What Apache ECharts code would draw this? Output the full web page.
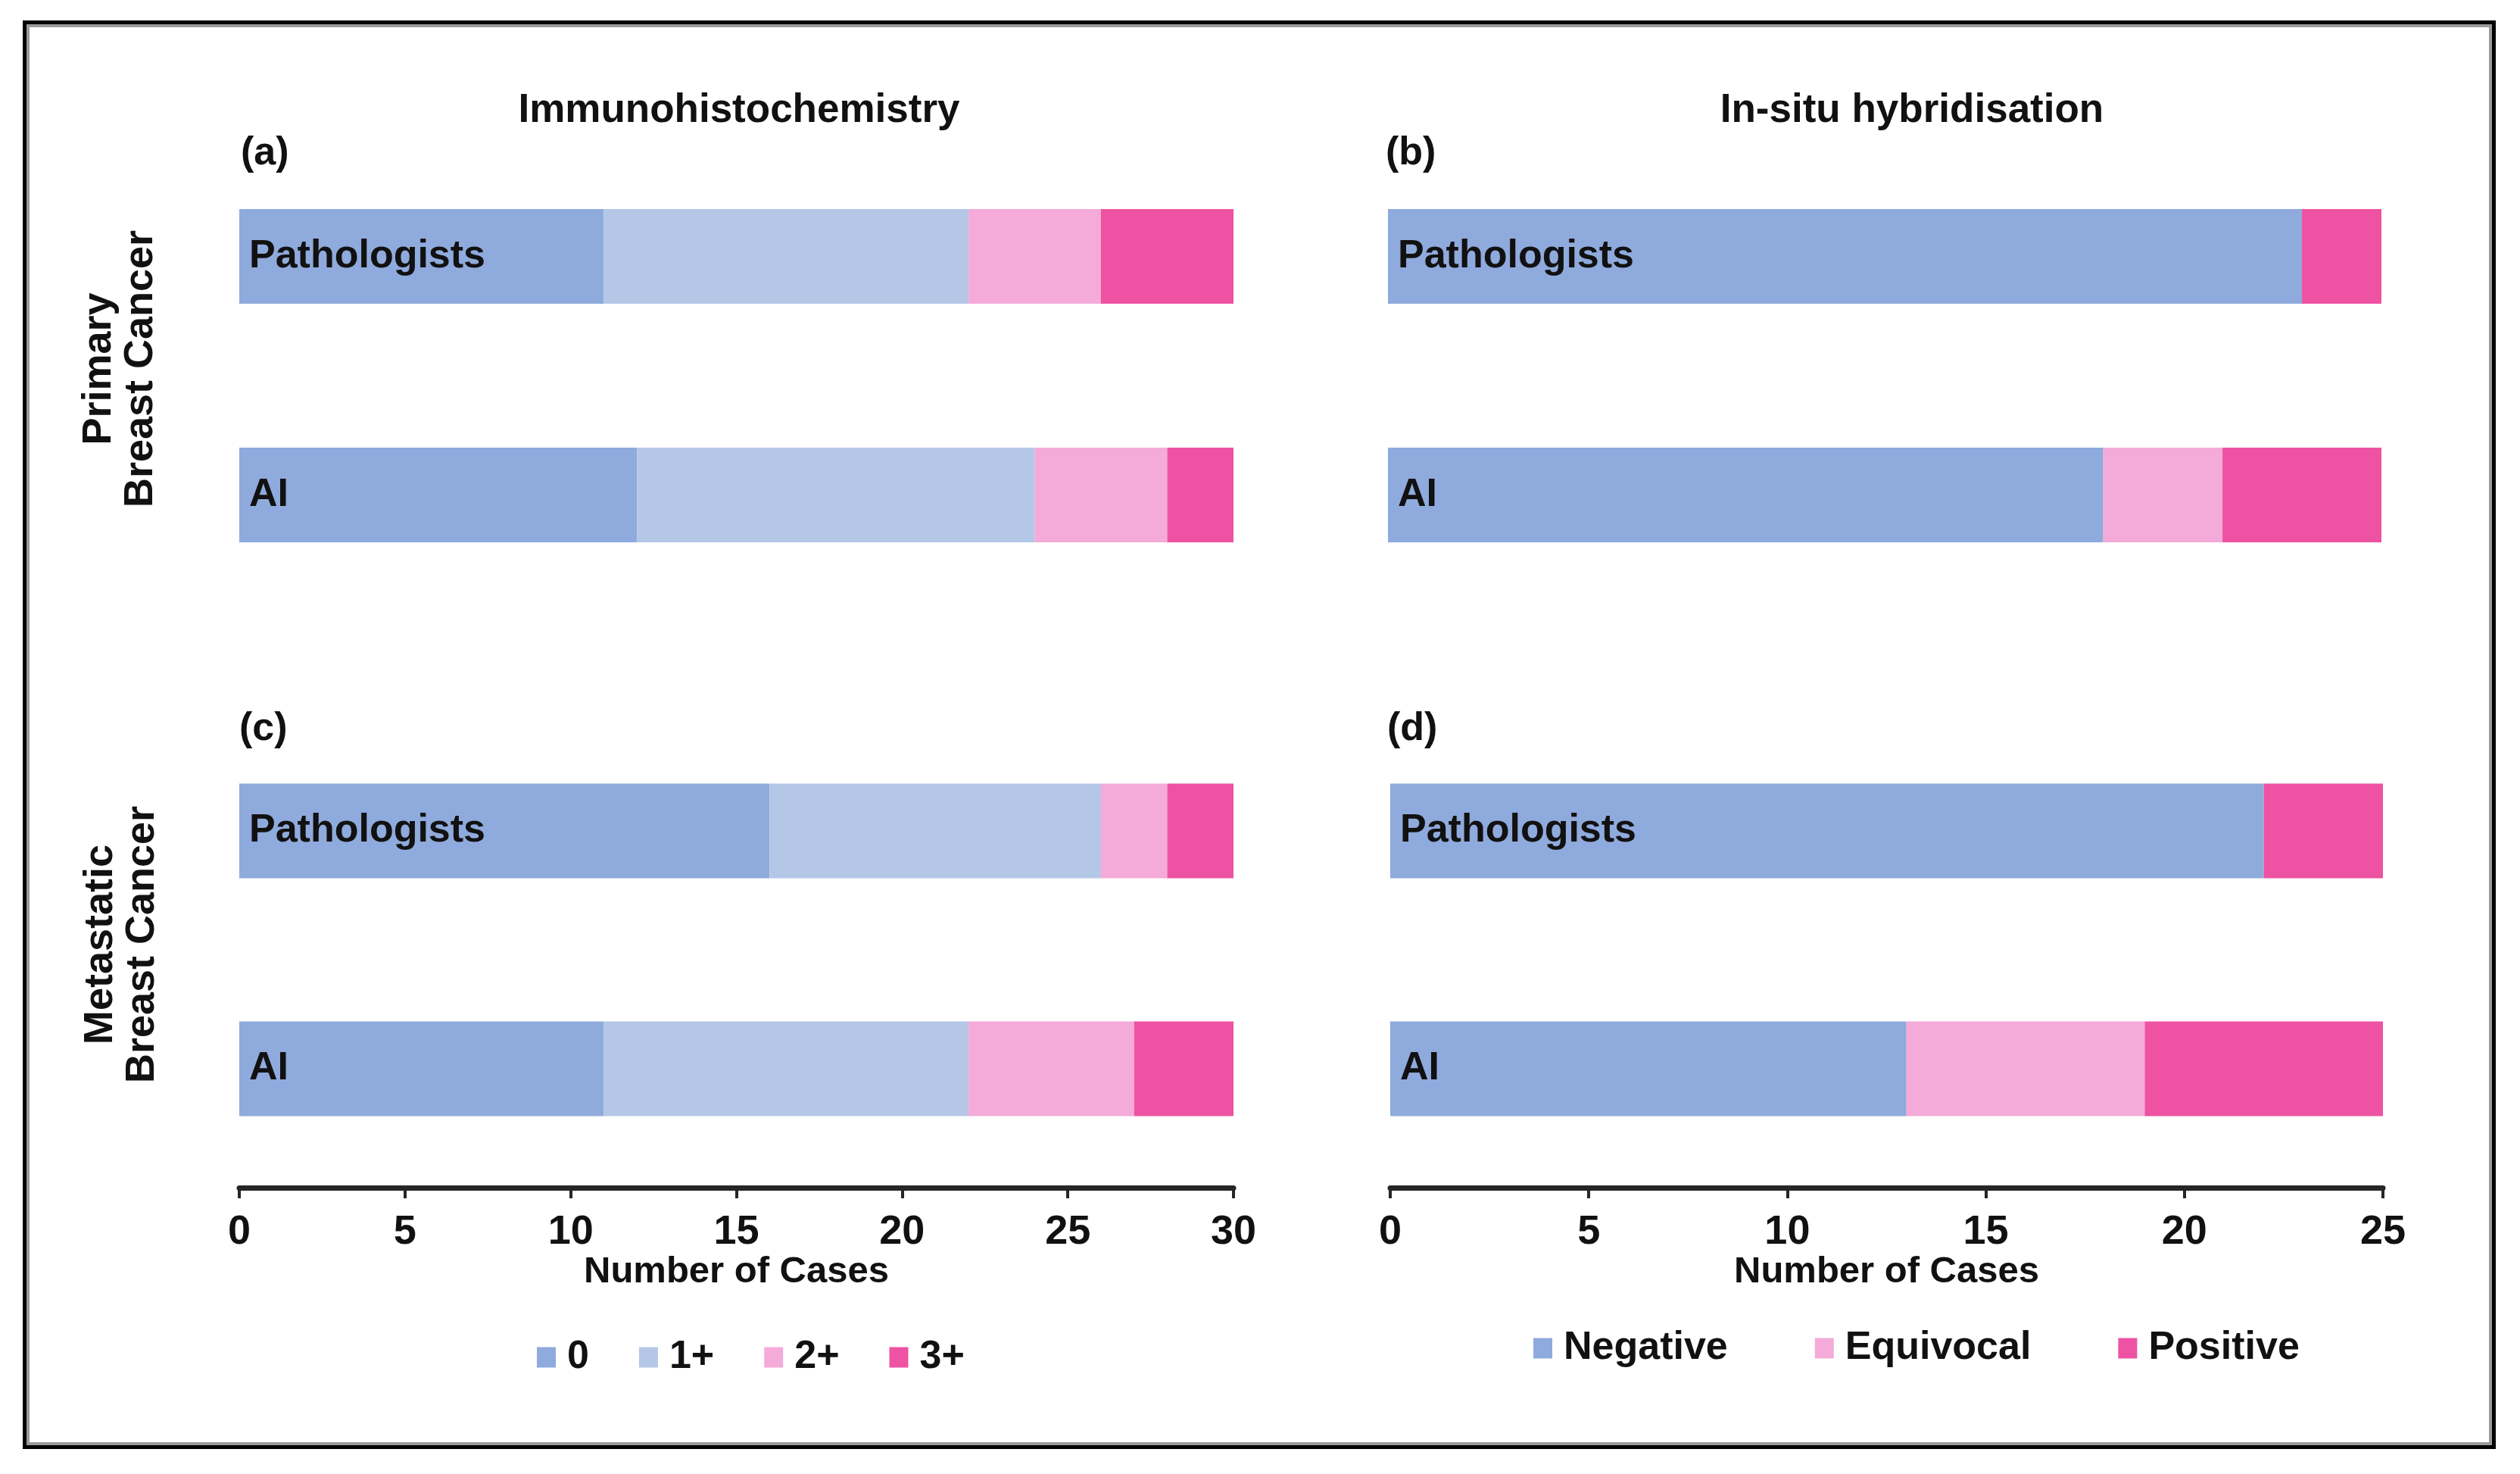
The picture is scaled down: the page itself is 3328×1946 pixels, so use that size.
<!DOCTYPE html>
<html>
<head>
<meta charset="utf-8">
<script src="https://cdn.jsdelivr.net/npm/echarts@6/dist/echarts.min.js"></script>
<style>
html,body{margin:0;padding:0;background:#fff;}
#chart{width:3328px;height:1946px;}
</style>
</head>
<body>
<div id="chart"></div>
<script>
// ---- data ----
const categories = ['Pathologists', 'AI'];
const ihcLevels = ['0', '1+', '2+', '3+'];
const ishLevels = ['Negative', 'Equivocal', 'Positive'];

// values per level, in level order
const ihcPrimaryPathologists = [11, 11, 4, 4];
const ihcPrimaryAI = [12, 12, 4, 2];
const ihcMetastaticPathologists = [16, 10, 2, 2];
const ihcMetastaticAI = [11, 11, 5, 3];

const ishPrimaryPathologists = [23, 0, 2];
const ishPrimaryAI = [18, 3, 4];
const ishMetastaticPathologists = [22, 0, 3];
const ishMetastaticAI = [13, 6, 6];

const ihcAxisMax = 30;
const ishAxisMax = 25;
const axisInterval = 5;

const ihcColors = ['#8FAADC', '#B4C7E7', '#F4ABD9', '#EE52A3'];
const ishColors = ['#8FAADC', '#F4ABD9', '#EE52A3'];

// ---- styling ----
const FONT = "'Liberation Sans', Arial, sans-serif";
const INK = '#111';

const grids = [
  {left: 316, top: 181, width: 1313, height: 630},   // (a)
  {left: 1833, top: 181, width: 1312, height: 630},  // (b)
  {left: 316, top: 940, width: 1313, height: 628},   // (c)
  {left: 1836, top: 940, width: 1311, height: 628}   // (d)
];

function makeXAxis(gridIndex, max, visible) {
  return {
    type: 'value', gridIndex: gridIndex, min: 0, max: max, interval: axisInterval,
    show: visible,
    splitLine: {show: false},
    axisLine: {show: true, lineStyle: {color: '#262626', width: 7}},
    axisTick: {show: true, inside: false, length: 14, lineStyle: {color: '#262626', width: 4}},
    axisLabel: {show: true, margin: 32, color: INK, fontFamily: FONT, fontWeight: 'bold', fontSize: 54},
    name: 'Number of Cases', nameLocation: 'middle', nameGap: 78,
    nameTextStyle: {color: INK, fontFamily: FONT, fontWeight: 'bold', fontSize: 49}
  };
}
function makeYAxis(gridIndex) {
  return {
    type: 'category', gridIndex: gridIndex, data: categories, inverse: true, z: 10,
    axisLine: {show: false}, axisTick: {show: false}, splitLine: {show: false},
    axisLabel: {inside: true, margin: 13, color: INK, fontFamily: FONT, fontWeight: 'bold', fontSize: 52}
  };
}

const xAxes = [
  makeXAxis(0, ihcAxisMax, false),
  makeXAxis(1, ishAxisMax, false),
  makeXAxis(2, ihcAxisMax, true),
  makeXAxis(3, ishAxisMax, true)
];
const yAxes = [makeYAxis(0), makeYAxis(1), makeYAxis(2), makeYAxis(3)];

const series = [];
function addPanel(axisIndex, levels, colors, pathVals, aiVals, stackName) {
  levels.forEach(function (lv, i) {
    series.push({
      type: 'bar', name: lv, stack: stackName,
      xAxisIndex: axisIndex, yAxisIndex: axisIndex,
      barWidth: 125,
      itemStyle: {color: colors[i]},
      emphasis: {disabled: true},
      data: [pathVals[i], aiVals[i]]
    });
  });
}
addPanel(0, ihcLevels, ihcColors, ihcPrimaryPathologists, ihcPrimaryAI, 'a');
addPanel(1, ishLevels, ishColors, ishPrimaryPathologists, ishPrimaryAI, 'b');
addPanel(2, ihcLevels, ihcColors, ihcMetastaticPathologists, ihcMetastaticAI, 'c');
addPanel(3, ishLevels, ishColors, ishMetastaticPathologists, ishMetastaticAI, 'd');

const legendText = {color: INK, fontFamily: FONT, fontWeight: 'bold', fontSize: 52, padding: [0, 0, 0, 10]};

function txt(text, x, y, size, align, rot, lh) {
  return {
    type: 'text', x: x, y: y, rotation: rot || 0, z: 20,
    style: {text: text, fill: INK, font: 'bold ' + size + 'px ' + FONT,
            textAlign: align || 'center', textVerticalAlign: 'middle', lineHeight: lh || size}
  };
}

const option = {
  animation: false,
  backgroundColor: '#fff',
  grid: grids,
  xAxis: xAxes,
  yAxis: yAxes,
  legend: [
    {data: ihcLevels, left: 704, top: 1761, orient: 'horizontal', icon: 'rect',
     itemWidth: 25, itemHeight: 27, itemGap: 66, textStyle: legendText, selectedMode: false},
    {data: ishLevels, left: 2020, top: 1749, orient: 'horizontal', icon: 'rect',
     itemWidth: 25, itemHeight: 27, itemGap: 115, textStyle: legendText, selectedMode: false}
  ],
  series: series,
  graphic: [
    {type: 'rect', shape: {x: 32.5, y: 29.5, width: 3261, height: 1881},
     style: {fill: 'none', stroke: '#000', lineWidth: 5}, z: 30},
    {type: 'rect', shape: {x: 37, y: 34, width: 3252, height: 1872},
     style: {fill: 'none', stroke: '#9a9a9a', lineWidth: 4}, z: 30},
    txt('Immunohistochemistry', 976, 146, 53),
    txt('In-situ hybridisation', 2525, 146, 53),
    txt('(a)', 318, 203, 52, 'left'),
    txt('(b)', 1830, 203, 52, 'left'),
    txt('(c)', 316, 963, 52, 'left'),
    txt('(d)', 1832, 963, 52, 'left'),
    txt('Primary\nBreast Cancer', 159, 487, 54, 'center', Math.PI / 2, 55),
    txt('Metastatic\nBreast Cancer', 161, 1247, 54, 'center', Math.PI / 2, 55)
  ]
};

const chart = echarts.init(document.getElementById('chart'), null, {renderer: 'canvas'});
chart.setOption(option);
</script>
</body>
</html>
